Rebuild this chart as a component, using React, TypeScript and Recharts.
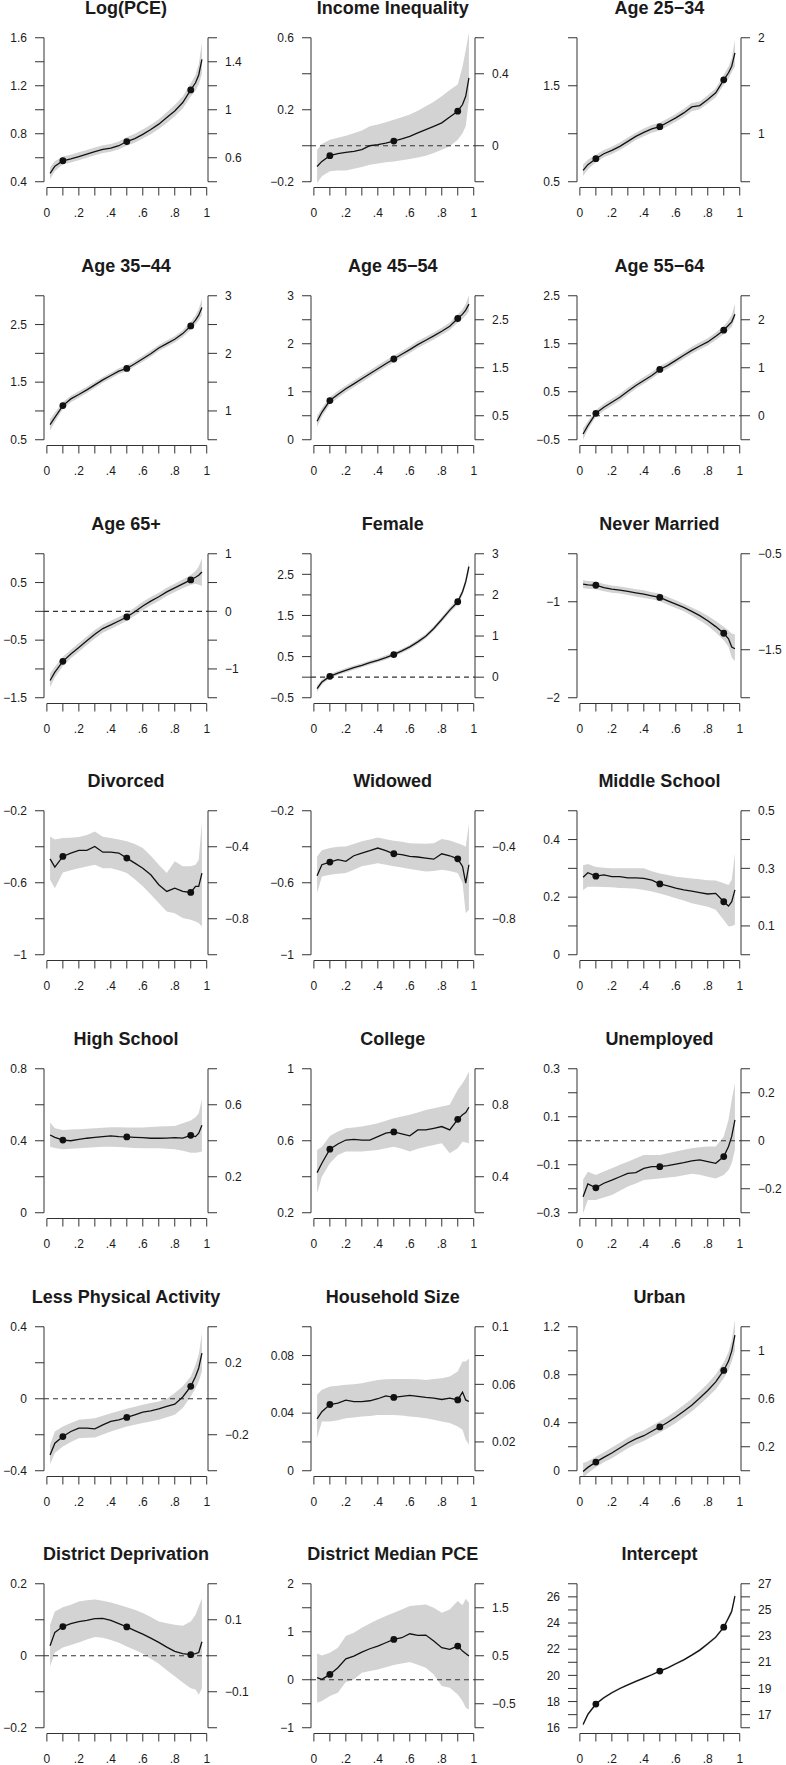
import React from 'react';
import { ComposedChart, Area, Line, XAxis, YAxis, ReferenceLine } from 'recharts';

// quantile grid
const X = [0.02, 0.05, 0.1, 0.15, 0.2, 0.25, 0.3, 0.35, 0.4, 0.45, 0.5, 0.55, 0.6, 0.65, 0.7, 0.75, 0.8, 0.85, 0.9, 0.93, 0.95, 0.97];
const X_TICKS = [0, 0.1, 0.2, 0.3, 0.4, 0.5, 0.6, 0.7, 0.8, 0.9, 1];
const X_TICK_LABELS = ['0', '', '.2', '', '.4', '', '.6', '', '.8', '', '1'];
const DOT_X = [0.1, 0.5, 0.9];

const logpceTicks = [0.4, 0.6, 0.8, 1, 1.2, 1.4, 1.6];
const logpceLine = [0.47, 0.53, 0.575, 0.59, 0.61, 0.63, 0.65, 0.67, 0.68, 0.70, 0.735, 0.76, 0.795, 0.835, 0.88, 0.935, 0.99, 1.06, 1.165, 1.225, 1.29, 1.42];
const logpceLo = [0.42, 0.49, 0.545, 0.56, 0.58, 0.60, 0.62, 0.64, 0.65, 0.67, 0.70, 0.725, 0.76, 0.795, 0.84, 0.89, 0.945, 1.01, 1.11, 1.16, 1.21, 1.30];
const logpceHi = [0.52, 0.57, 0.61, 0.625, 0.645, 0.665, 0.685, 0.705, 0.715, 0.735, 0.77, 0.80, 0.835, 0.875, 0.92, 0.98, 1.04, 1.11, 1.22, 1.29, 1.38, 1.56];

const ineqTicks = [-0.2, 0, 0.2, 0.4, 0.6];
const ineqLine = [-0.115, -0.087, -0.055, -0.044, -0.037, -0.031, -0.022, 0.0, 0.006, 0.015, 0.026, 0.038, 0.052, 0.071, 0.09, 0.108, 0.127, 0.16, 0.192, 0.229, 0.275, 0.377];
const ineqLo = [-0.207, -0.17, -0.142, -0.138, -0.137, -0.128, -0.118, -0.105, -0.098, -0.092, -0.087, -0.08, -0.074, -0.066, -0.055, -0.04, -0.022, -0.003, 0.034, 0.07, 0.108, 0.257];
const ineqHi = [-0.022, 0.01, 0.034, 0.045, 0.056, 0.07, 0.085, 0.108, 0.118, 0.13, 0.145, 0.158, 0.173, 0.195, 0.22, 0.245, 0.275, 0.31, 0.34, 0.44, 0.53, 0.63];

const a2534Ticks = [0.5, 1, 1.5, 2];
const a2534Line = [0.618, 0.678, 0.74, 0.792, 0.827, 0.869, 0.921, 0.973, 1.015, 1.05, 1.074, 1.12, 1.165, 1.217, 1.28, 1.294, 1.356, 1.426, 1.562, 1.635, 1.704, 1.843];
const a2534Lo = [0.56, 0.63, 0.70, 0.755, 0.79, 0.83, 0.88, 0.935, 0.975, 1.01, 1.035, 1.08, 1.125, 1.175, 1.235, 1.255, 1.315, 1.38, 1.51, 1.575, 1.64, 1.70];
const a2534Hi = [0.68, 0.73, 0.78, 0.83, 0.865, 0.91, 0.96, 1.01, 1.055, 1.09, 1.115, 1.16, 1.205, 1.26, 1.32, 1.335, 1.4, 1.475, 1.615, 1.70, 1.79, 1.98];

const a3544Ticks = [0.5, 1, 1.5, 2, 2.5, 3];
const a3544Line = [0.762, 0.89, 1.093, 1.209, 1.285, 1.366, 1.453, 1.54, 1.616, 1.69, 1.738, 1.82, 1.907, 1.994, 2.093, 2.169, 2.244, 2.343, 2.477, 2.576, 2.663, 2.797];
const a3544Lo = [0.66, 0.81, 1.03, 1.15, 1.23, 1.31, 1.40, 1.49, 1.565, 1.64, 1.69, 1.77, 1.855, 1.94, 2.04, 2.115, 2.19, 2.285, 2.41, 2.5, 2.57, 2.66];
const a3544Hi = [0.86, 0.97, 1.155, 1.265, 1.34, 1.42, 1.505, 1.59, 1.665, 1.74, 1.79, 1.87, 1.96, 2.05, 2.145, 2.225, 2.3, 2.4, 2.545, 2.66, 2.77, 2.95];

const a4554Ticks = [0, 0.5, 1, 1.5, 2, 2.5, 3];
const a4554Line = [0.384, 0.572, 0.816, 0.942, 1.061, 1.165, 1.27, 1.375, 1.479, 1.584, 1.682, 1.78, 1.877, 1.982, 2.073, 2.163, 2.261, 2.366, 2.526, 2.617, 2.70, 2.826];
const a4554Lo = [0.27, 0.48, 0.74, 0.87, 0.99, 1.095, 1.20, 1.305, 1.41, 1.515, 1.615, 1.71, 1.805, 1.91, 2.0, 2.09, 2.185, 2.285, 2.44, 2.52, 2.59, 2.67];
const a4554Hi = [0.50, 0.66, 0.89, 1.015, 1.13, 1.235, 1.34, 1.445, 1.55, 1.655, 1.75, 1.85, 1.95, 2.055, 2.145, 2.235, 2.335, 2.445, 2.61, 2.72, 2.83, 3.01];

const a5564Ticks = [-0.5, 0, 0.5, 1, 1.5, 2, 2.5];
const a5564Line = [-0.381, -0.207, 0.051, 0.177, 0.282, 0.386, 0.512, 0.63, 0.735, 0.84, 0.965, 1.049, 1.154, 1.259, 1.363, 1.454, 1.538, 1.656, 1.782, 1.887, 1.956, 2.117];
const a5564Lo = [-0.5, -0.29, -0.02, 0.105, 0.21, 0.315, 0.44, 0.56, 0.665, 0.77, 0.895, 0.98, 1.085, 1.19, 1.29, 1.38, 1.465, 1.58, 1.7, 1.79, 1.85, 2.03];
const a5564Hi = [-0.26, -0.12, 0.12, 0.25, 0.355, 0.46, 0.585, 0.7, 0.805, 0.91, 1.035, 1.12, 1.225, 1.33, 1.435, 1.53, 1.615, 1.735, 1.87, 1.99, 2.1, 2.34];

const a65Ticks = [-1.5, -1, -0.5, 0, 0.5, 1];
const a65Line = [-1.2, -1.057, -0.868, -0.741, -0.626, -0.511, -0.397, -0.299, -0.236, -0.167, -0.098, -0.006, 0.092, 0.178, 0.253, 0.339, 0.408, 0.477, 0.546, 0.592, 0.626, 0.684];
const a65Lo = [-1.32, -1.15, -0.95, -0.815, -0.7, -0.585, -0.47, -0.37, -0.305, -0.235, -0.165, -0.075, 0.02, 0.105, 0.18, 0.265, 0.335, 0.4, 0.46, 0.48, 0.46, 0.44];
const a65Hi = [-1.08, -0.96, -0.79, -0.665, -0.55, -0.435, -0.325, -0.23, -0.165, -0.1, -0.03, 0.065, 0.165, 0.25, 0.325, 0.41, 0.48, 0.555, 0.63, 0.7, 0.78, 0.92];

const femaleTicks = [-0.5, 0, 0.5, 1, 1.5, 2, 2.5, 3];
const femaleLine = [-0.28, -0.118, 0.02, 0.10, 0.167, 0.232, 0.289, 0.354, 0.41, 0.476, 0.549, 0.638, 0.736, 0.858, 0.996, 1.183, 1.402, 1.63, 1.833, 2.077, 2.321, 2.687];
const femaleLo = [-0.36, -0.18, -0.035, 0.05, 0.115, 0.18, 0.24, 0.305, 0.36, 0.425, 0.5, 0.585, 0.68, 0.8, 0.94, 1.125, 1.34, 1.565, 1.765, 2.0, 2.23, 2.57];
const femaleHi = [-0.2, -0.06, 0.075, 0.15, 0.22, 0.285, 0.34, 0.405, 0.46, 0.53, 0.6, 0.69, 0.79, 0.915, 1.05, 1.24, 1.465, 1.695, 1.9, 2.15, 2.41, 2.81];

const neverTicks = [-2, -1.5, -1, -0.5];
const neverLine = [-0.817, -0.824, -0.828, -0.852, -0.869, -0.879, -0.893, -0.907, -0.921, -0.938, -0.955, -0.99, -1.024, -1.059, -1.1, -1.145, -1.197, -1.259, -1.328, -1.386, -1.472, -1.49];
const neverLo = [-0.86, -0.865, -0.87, -0.89, -0.905, -0.915, -0.93, -0.945, -0.96, -0.975, -0.995, -1.03, -1.065, -1.1, -1.145, -1.195, -1.25, -1.32, -1.4, -1.47, -1.58, -1.62];
const neverHi = [-0.775, -0.785, -0.79, -0.815, -0.83, -0.84, -0.855, -0.87, -0.88, -0.9, -0.915, -0.95, -0.985, -1.02, -1.06, -1.1, -1.145, -1.2, -1.26, -1.3, -1.33, -1.34];

const divTicks = [-1, -0.8, -0.6, -0.4, -0.2];
const divLine = [-0.467, -0.513, -0.454, -0.435, -0.42, -0.42, -0.398, -0.43, -0.43, -0.435, -0.463, -0.491, -0.519, -0.556, -0.611, -0.648, -0.63, -0.648, -0.654, -0.62, -0.62, -0.546];
const divLo = [-0.583, -0.63, -0.543, -0.53, -0.519, -0.51, -0.5, -0.52, -0.52, -0.53, -0.546, -0.58, -0.62, -0.665, -0.713, -0.76, -0.769, -0.796, -0.806, -0.815, -0.824, -0.843];
const divHi = [-0.343, -0.36, -0.352, -0.35, -0.346, -0.335, -0.315, -0.345, -0.352, -0.36, -0.37, -0.385, -0.407, -0.45, -0.5, -0.546, -0.481, -0.509, -0.509, -0.5, -0.472, -0.26];

const widTicks = [-1, -0.8, -0.6, -0.4, -0.2];
const widLine = [-0.561, -0.5, -0.485, -0.472, -0.481, -0.45, -0.435, -0.422, -0.407, -0.422, -0.439, -0.444, -0.454, -0.457, -0.463, -0.469, -0.439, -0.45, -0.467, -0.509, -0.602, -0.5];
const widLo = [-0.657, -0.565, -0.556, -0.55, -0.546, -0.528, -0.509, -0.5, -0.491, -0.5, -0.509, -0.515, -0.524, -0.53, -0.537, -0.535, -0.528, -0.535, -0.546, -0.602, -0.769, -0.75];
const widHi = [-0.454, -0.42, -0.407, -0.4, -0.398, -0.385, -0.37, -0.36, -0.348, -0.358, -0.367, -0.372, -0.38, -0.382, -0.383, -0.38, -0.357, -0.365, -0.38, -0.39, -0.4, -0.269];

const midTicks = [0, 0.1, 0.2, 0.3, 0.4, 0.5];
const midLine = [0.269, 0.285, 0.273, 0.277, 0.271, 0.271, 0.267, 0.267, 0.265, 0.259, 0.246, 0.239, 0.231, 0.225, 0.221, 0.216, 0.211, 0.213, 0.184, 0.169, 0.184, 0.225];
const midLo = [0.225, 0.236, 0.236, 0.235, 0.234, 0.232, 0.231, 0.229, 0.225, 0.22, 0.213, 0.205, 0.196, 0.188, 0.179, 0.173, 0.167, 0.156, 0.121, 0.098, 0.10, 0.104];
const midHi = [0.311, 0.315, 0.305, 0.302, 0.30, 0.30, 0.30, 0.30, 0.30, 0.29, 0.282, 0.277, 0.271, 0.268, 0.265, 0.262, 0.259, 0.258, 0.248, 0.242, 0.26, 0.352];

const highTicks = [0, 0.2, 0.4, 0.6, 0.8];
const highLine = [0.432, 0.419, 0.404, 0.40, 0.408, 0.414, 0.419, 0.423, 0.427, 0.423, 0.421, 0.419, 0.417, 0.414, 0.414, 0.415, 0.417, 0.415, 0.43, 0.423, 0.442, 0.486];
const highLo = [0.367, 0.36, 0.353, 0.355, 0.358, 0.361, 0.364, 0.366, 0.367, 0.365, 0.362, 0.36, 0.358, 0.358, 0.358, 0.356, 0.353, 0.345, 0.334, 0.334, 0.336, 0.34];
const highHi = [0.501, 0.47, 0.46, 0.462, 0.464, 0.467, 0.469, 0.472, 0.475, 0.475, 0.474, 0.474, 0.474, 0.476, 0.479, 0.48, 0.482, 0.497, 0.512, 0.53, 0.553, 0.631];

const collTicks = [0.2, 0.4, 0.6, 0.8, 1];
const collLine = [0.423, 0.475, 0.553, 0.582, 0.604, 0.608, 0.604, 0.604, 0.623, 0.642, 0.649, 0.638, 0.627, 0.66, 0.66, 0.669, 0.679, 0.66, 0.719, 0.744, 0.757, 0.786];
const collLo = [0.308, 0.40, 0.475, 0.521, 0.54, 0.54, 0.54, 0.545, 0.549, 0.558, 0.567, 0.555, 0.54, 0.555, 0.567, 0.577, 0.586, 0.53, 0.558, 0.595, 0.59, 0.586];
const collHi = [0.549, 0.567, 0.627, 0.651, 0.669, 0.674, 0.679, 0.688, 0.697, 0.711, 0.725, 0.735, 0.744, 0.757, 0.771, 0.78, 0.79, 0.80, 0.883, 0.92, 0.948, 0.985];

const unempTicks = [-0.3, -0.2, -0.1, 0, 0.1, 0.2, 0.3];
const unempLine = [-0.233, -0.18, -0.196, -0.177, -0.164, -0.15, -0.136, -0.133, -0.115, -0.108, -0.108, -0.104, -0.097, -0.091, -0.084, -0.08, -0.087, -0.094, -0.066, -0.024, 0.018, 0.087];
const unempLo = [-0.303, -0.247, -0.247, -0.237, -0.226, -0.208, -0.191, -0.178, -0.164, -0.16, -0.157, -0.153, -0.15, -0.144, -0.138, -0.142, -0.15, -0.157, -0.143, -0.122, -0.094, -0.038];
const unempHi = [-0.163, -0.129, -0.143, -0.128, -0.115, -0.1, -0.087, -0.073, -0.059, -0.059, -0.059, -0.052, -0.045, -0.038, -0.031, -0.027, -0.024, -0.024, 0.018, 0.087, 0.171, 0.24];

const physTicks = [-0.4, -0.2, 0, 0.2, 0.4];
const physLine = [-0.312, -0.247, -0.21, -0.182, -0.163, -0.163, -0.167, -0.145, -0.126, -0.117, -0.104, -0.089, -0.074, -0.067, -0.056, -0.043, -0.03, 0.01, 0.069, 0.124, 0.171, 0.254];
const physLo = [-0.364, -0.302, -0.265, -0.24, -0.219, -0.217, -0.215, -0.198, -0.182, -0.168, -0.154, -0.145, -0.135, -0.126, -0.117, -0.103, -0.089, -0.052, 0.013, 0.059, 0.096, 0.152];
const physHi = [-0.256, -0.182, -0.154, -0.135, -0.117, -0.112, -0.108, -0.094, -0.08, -0.068, -0.056, -0.045, -0.033, -0.024, -0.015, 0.0, 0.032, 0.069, 0.124, 0.189, 0.245, 0.365];

const hhTicks = [0, 0.02, 0.04, 0.06, 0.08, 0.1];
const hhLine = [0.036, 0.041, 0.046, 0.047, 0.049, 0.048, 0.048, 0.0486, 0.05, 0.052, 0.0509, 0.0516, 0.0523, 0.0516, 0.0509, 0.0504, 0.0495, 0.0504, 0.0492, 0.0546, 0.0492, 0.0481];
const hhLo = [0.0227, 0.0342, 0.0342, 0.035, 0.0365, 0.037, 0.0377, 0.038, 0.0388, 0.0388, 0.0388, 0.0383, 0.0377, 0.0371, 0.0365, 0.0355, 0.0342, 0.0331, 0.0308, 0.0284, 0.0215, 0.018];
const hhHi = [0.0527, 0.0562, 0.0585, 0.059, 0.0597, 0.06, 0.0608, 0.062, 0.0631, 0.0635, 0.0638, 0.0638, 0.0638, 0.0635, 0.0631, 0.0637, 0.0643, 0.0654, 0.0689, 0.0758, 0.0758, 0.078];

const urbanTicks = [0, 0.2, 0.4, 0.6, 0.8, 1, 1.2];
const urbanLine = [-0.006, 0.028, 0.072, 0.111, 0.148, 0.189, 0.231, 0.265, 0.292, 0.329, 0.365, 0.404, 0.448, 0.496, 0.546, 0.607, 0.669, 0.741, 0.836, 0.914, 0.997, 1.131];
const urbanLo = [-0.061, -0.02, 0.03, 0.07, 0.105, 0.145, 0.187, 0.22, 0.247, 0.283, 0.318, 0.356, 0.398, 0.445, 0.494, 0.553, 0.612, 0.68, 0.77, 0.84, 0.91, 0.997];
const urbanHi = [0.064, 0.08, 0.117, 0.155, 0.193, 0.234, 0.276, 0.31, 0.338, 0.376, 0.413, 0.453, 0.498, 0.548, 0.6, 0.662, 0.727, 0.803, 0.905, 0.99, 1.09, 1.262];

const depTicks = [-0.2, -0.1, 0, 0.1, 0.2];
const depLine = [0.028, 0.065, 0.081, 0.089, 0.095, 0.098, 0.103, 0.104, 0.098, 0.089, 0.08, 0.07, 0.06, 0.049, 0.037, 0.024, 0.012, 0.006, 0.003, 0.006, 0.009, 0.039];
const depLo = [-0.03, 0.009, 0.023, 0.03, 0.037, 0.045, 0.052, 0.05, 0.044, 0.036, 0.026, 0.016, 0.006, -0.008, -0.022, -0.04, -0.057, -0.074, -0.09, -0.094, -0.108, -0.09];
const depHi = [0.086, 0.123, 0.135, 0.142, 0.151, 0.154, 0.156, 0.153, 0.148, 0.142, 0.135, 0.128, 0.119, 0.108, 0.095, 0.09, 0.086, 0.083, 0.095, 0.114, 0.137, 0.16];

const medTicks = [-1, -0.5, 0, 0.5, 1, 1.5, 2];
const medLine = [0.042, 0.007, 0.111, 0.25, 0.437, 0.493, 0.576, 0.646, 0.701, 0.771, 0.84, 0.875, 0.958, 0.924, 0.931, 0.806, 0.667, 0.632, 0.701, 0.597, 0.549, 0.493];
const medLo = [-0.479, -0.444, -0.34, -0.271, -0.049, 0.007, 0.146, 0.18, 0.215, 0.26, 0.306, 0.34, 0.368, 0.31, 0.25, 0.111, -0.132, -0.167, -0.306, -0.444, -0.583, -0.618];
const medHi = [0.549, 0.507, 0.563, 0.667, 0.91, 0.979, 1.083, 1.17, 1.257, 1.33, 1.396, 1.465, 1.535, 1.55, 1.569, 1.5, 1.396, 1.465, 1.639, 1.55, 1.687, 1.604];

const intTicks = [16, 17, 18, 19, 20, 21, 22, 23, 24, 25, 26, 27];
const intLine = [16.25, 17.02, 17.81, 18.29, 18.67, 19.0, 19.28, 19.54, 19.79, 20.05, 20.33, 20.58, 20.89, 21.19, 21.55, 21.93, 22.41, 22.92, 23.68, 24.4, 24.9, 26.05];
const intLo = [16.1, 16.9, 17.7, 18.19, 18.58, 18.91, 19.2, 19.46, 19.71, 19.97, 20.25, 20.5, 20.8, 21.1, 21.46, 21.83, 22.3, 22.8, 23.54, 24.22, 24.68, 25.75];
const intHi = [16.4, 17.14, 17.92, 18.39, 18.76, 19.09, 19.36, 19.62, 19.87, 20.13, 20.41, 20.66, 20.98, 21.28, 21.64, 22.03, 22.52, 23.04, 23.82, 24.58, 25.12, 26.35];

const PANELS = [
  { title: 'Log(PCE)', ticks: logpceTicks, line: logpceLine, lo: logpceLo, hi: logpceHi },
  { title: 'Income Inequality', ticks: ineqTicks, line: ineqLine, lo: ineqLo, hi: ineqHi },
  { title: 'Age 25\u221234', ticks: a2534Ticks, line: a2534Line, lo: a2534Lo, hi: a2534Hi },
  { title: 'Age 35\u221244', ticks: a3544Ticks, line: a3544Line, lo: a3544Lo, hi: a3544Hi },
  { title: 'Age 45\u221254', ticks: a4554Ticks, line: a4554Line, lo: a4554Lo, hi: a4554Hi },
  { title: 'Age 55\u221264', ticks: a5564Ticks, line: a5564Line, lo: a5564Lo, hi: a5564Hi },
  { title: 'Age 65+', ticks: a65Ticks, line: a65Line, lo: a65Lo, hi: a65Hi },
  { title: 'Female', ticks: femaleTicks, line: femaleLine, lo: femaleLo, hi: femaleHi },
  { title: 'Never Married', ticks: neverTicks, line: neverLine, lo: neverLo, hi: neverHi },
  { title: 'Divorced', ticks: divTicks, line: divLine, lo: divLo, hi: divHi },
  { title: 'Widowed', ticks: widTicks, line: widLine, lo: widLo, hi: widHi },
  { title: 'Middle School', ticks: midTicks, line: midLine, lo: midLo, hi: midHi },
  { title: 'High School', ticks: highTicks, line: highLine, lo: highLo, hi: highHi },
  { title: 'College', ticks: collTicks, line: collLine, lo: collLo, hi: collHi },
  { title: 'Unemployed', ticks: unempTicks, line: unempLine, lo: unempLo, hi: unempHi },
  { title: 'Less Physical Activity', ticks: physTicks, line: physLine, lo: physLo, hi: physHi },
  { title: 'Household Size', ticks: hhTicks, line: hhLine, lo: hhLo, hi: hhHi },
  { title: 'Urban', ticks: urbanTicks, line: urbanLine, lo: urbanLo, hi: urbanHi },
  { title: 'District Deprivation', ticks: depTicks, line: depLine, lo: depLo, hi: depHi },
  { title: 'District Median PCE', ticks: medTicks, line: medLine, lo: medLo, hi: medHi },
  { title: 'Intercept', ticks: intTicks, line: intLine, lo: intLo, hi: intHi },
];

const FONT = '"Liberation Sans", Arial, Helvetica, sans-serif';
const AX = '#333';
const TXT = '#1a1a1a';
const COL_PITCH = 266.7;
const ROW_PITCH = 257.67;
const PLOT_W = 164;
const PLOT_H = 155.5;
const LEFT_W = 44;
const RIGHT_W = 45;
const TOP_M = 10;
const X_H = 50;
const PLOT_LEFT0 = 44;
const PLOT_TOP0 = 32.24;
const XMIN = -0.018;
const XMAX = 1.008;

const fmt = (v: number) => String(v).replace('-', '\u2212');

function Panel({ p, idx }: { p: any; idx: number }) {
  const r = Math.floor(idx / 3);
  const c = idx % 3;
  const plotLeft = PLOT_LEFT0 + c * COL_PITCH;
  const plotTop = PLOT_TOP0 + r * ROW_PITCH;
  const ticks: number[] = p.ticks;
  const t0 = ticks[0];
  const t1 = ticks[ticks.length - 1];
  const pad = 0.04 * (t1 - t0);
  const dom: [number, number] = [t0 - pad, t1 + pad];
  const data = X.map((x, i) => ({ x, y: p.line[i], band: [p.lo[i], p.hi[i]] }));
  const hasZero = t0 < 0 && t1 > 0;

  const makeYTick = (side: 'L' | 'R') => (props: any) => {
    const { x, y, payload, index } = props;
    const i = ticks.indexOf(payload.value);
    const show = side === 'L' ? i % 2 === 0 : i % 2 === 1;
    const dir = side === 'L' ? -1 : 1;
    return (
      <g key={`${side}${index}`}>
        <line x1={x} y1={y} x2={x + dir * 9} y2={y} stroke={AX} strokeWidth={1} />
        {show && (
          <text x={x + dir * 17} y={y} dy="0.35em" textAnchor={side === 'L' ? 'end' : 'start'}
            fontFamily={FONT} fontSize={12} fill={TXT}>{fmt(payload.value)}</text>
        )}
      </g>
    );
  };

  const xTick = (props: any) => {
    const { x, y, payload, index } = props;
    const i = X_TICKS.indexOf(payload.value);
    return (
      <g key={`x${index}`}>
        <line x1={x} y1={y} x2={x} y2={y + 8} stroke={AX} strokeWidth={1} />
        <text x={x} y={y + 25} dy="0.35em" textAnchor="middle" fontFamily={FONT} fontSize={12} fill={TXT}>
          {X_TICK_LABELS[i]}
        </text>
      </g>
    );
  };

  const dotFn = (props: any) => {
    const { cx, cy, payload, index } = props;
    if (DOT_X.indexOf(payload.x) >= 0) {
      return <circle key={`d${index}`} cx={cx} cy={cy} r={3.4} fill="#111" stroke="none" />;
    }
    return <g key={`d${index}`} />;
  };

  return (
    <>
      <div style={{
        position: 'absolute', left: plotLeft - 60, width: PLOT_W + 120, top: plotTop - 35, height: 22,
        lineHeight: '22px', textAlign: 'center', fontFamily: FONT, fontWeight: 'bold', fontSize: 18,
        color: TXT, whiteSpace: 'nowrap',
      }}>{p.title}</div>
      <div style={{ position: 'absolute', left: plotLeft - LEFT_W, top: plotTop - TOP_M }}>
        <ComposedChart width={LEFT_W + PLOT_W + RIGHT_W} height={TOP_M + PLOT_H + X_H} data={data}
          margin={{ top: TOP_M, right: 0, bottom: 0, left: 0 }}>
          <XAxis dataKey="x" type="number" domain={[XMIN, XMAX]} allowDataOverflow ticks={X_TICKS}
            interval={0} tickSize={0} tickMargin={0} axisLine={false} tickLine={false} tick={xTick} height={X_H} />
          <YAxis yAxisId="L" orientation="left" type="number" width={LEFT_W} domain={dom} allowDataOverflow
            ticks={ticks} interval={0} tickSize={0} tickMargin={0} axisLine={false} tickLine={false} tick={makeYTick('L')} />
          <YAxis yAxisId="R" orientation="right" type="number" width={RIGHT_W} domain={dom} allowDataOverflow
            ticks={ticks} interval={0} tickSize={0} tickMargin={0} axisLine={false} tickLine={false} tick={makeYTick('R')} />
          <Area yAxisId="L" dataKey="band" type="linear" stroke="none" fill="#d3d3d3" fillOpacity={1}
            isAnimationActive={false} activeDot={false} />
          {hasZero && (
            <ReferenceLine yAxisId="L" y={0} stroke={AX} strokeWidth={1.1} strokeDasharray="5 4" ifOverflow="visible" />
          )}
          <Line yAxisId="L" dataKey="y" type="linear" stroke="#111" strokeWidth={1.3} dot={dotFn}
            activeDot={false} isAnimationActive={false} />
          <ReferenceLine yAxisId="L" segment={[{ x: XMIN, y: t0 }, { x: XMIN, y: t1 }]} stroke={AX} strokeWidth={1} ifOverflow="visible" />
          <ReferenceLine yAxisId="L" segment={[{ x: XMAX, y: t0 }, { x: XMAX, y: t1 }]} stroke={AX} strokeWidth={1} ifOverflow="visible" />
          <ReferenceLine yAxisId="L" segment={[{ x: 0, y: dom[0] }, { x: 1, y: dom[0] }]} stroke={AX} strokeWidth={1} ifOverflow="visible" />
        </ComposedChart>
      </div>
    </>
  );
}

export default function App() {
  return (
    <div style={{ position: 'absolute', left: 0, top: 0, width: 786, height: 1765, background: '#fff', overflow: 'hidden' }}>
      {PANELS.map((p, i) => (
        <Panel key={p.title} p={p} idx={i} />
      ))}
    </div>
  );
}
